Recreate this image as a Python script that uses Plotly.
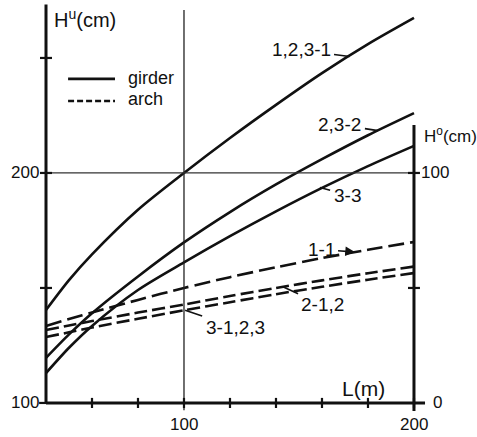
import plotly.graph_objects as go

# ---------------- data ----------------
L_m = [40, 50, 60, 80, 100, 120, 140, 160, 180, 200]

girder_123_1 = [140.4, 153.4, 164.6, 184.0, 200.0, 215.2, 229.6, 243.4, 256.0, 267.4]
girder_23_2 = [119.6, 129.8, 139.0, 155.0, 169.8, 183.0, 195.0, 206.0, 216.4, 226.0]
girder_3_3 = [113.0, 124.0, 133.5, 149.1, 161.1, 172.5, 183.3, 193.5, 203.0, 211.8]

arch_1_1 = [133.5, 136.5, 139.3, 144.8, 150.0, 154.7, 159.0, 163.0, 166.6, 170.0]
arch_2_12 = [131.7, 133.7, 135.6, 139.3, 142.8, 146.5, 150.0, 153.3, 156.4, 159.3]
arch_3_123 = [128.7, 130.7, 132.8, 136.6, 140.3, 143.8, 147.3, 150.5, 153.6, 156.5]

curve_labels = ["1,2,3-1", "2,3-2", "3-3", "1-1", "2-1,2", "3-1,2,3"]

left_ticks = [150, 200, 250]          # H^u (cm), minor crossing ticks
left_tick_labels = [100, 200]        # labelled values on H^u axis
bottom_ticks = [60, 80, 100, 120, 140, 160, 180, 200]
bottom_tick_labels = [100, 200]
right_ticks = [50, 100]              # H^o (cm)
right_tick_labels = [0, 100]
RIGHT_OFFSET = 100                   # H^o = H^u - 100

# ---------------- figure ----------------
FONT = "Liberation Sans"
INK = "#111111"
X0, X1 = 40, 200
Y0 = 100

fig = go.Figure()

series = [
    (girder_123_1, "solid"),
    (girder_23_2, "solid"),
    (girder_3_3, "solid"),
    (arch_1_1, "16px,6px"),
    (arch_2_12, "13px,5px"),
    (arch_3_123, "13px,5px"),
]
for vals, dash in series:
    fig.add_trace(go.Scatter(
        x=L_m, y=vals, mode="lines",
        line=dict(color=INK, width=2.6, dash=dash, shape="spline", smoothing=0.8),
        showlegend=False, hoverinfo="skip"))

shapes = []
def seg(x0, y0, x1, y1, w=3, dash="solid", color=INK):
    shapes.append(dict(type="line", xref="x", yref="y", x0=x0, y0=y0, x1=x1, y1=y1,
                       line=dict(color=color, width=w, dash=dash), layer="above"))

# grid lines
seg(100, 96.8, 100, 270.9, w=1.3, color="#222")
seg(X0, 200, X1, 200, w=1.2, color="#333")
# axes
seg(X0, Y0, X0, 273.2, w=3)
seg(X0, Y0, 204.8, Y0, w=3)
seg(X1, 96.5, X1, 220.9, w=3)
# ticks
for t in left_ticks:
    seg(X0 - 2.6, t, X0 + 2.6, t, w=2.2)
seg(X0 - 3.0, Y0, X0, Y0, w=2.2)
for t in bottom_ticks:
    seg(t, Y0 - 2.2, t, Y0 + 2.2, w=2.2)
for t in right_ticks:
    seg(X1 - 2.6, t + RIGHT_OFFSET, X1 + 2.6, t + RIGHT_OFFSET, w=2.2)

# legend keys
seg(49.6, 240.9, 70.0, 240.9, w=2.6)
seg(49.6, 231.3, 70.0, 231.3, w=2.4, dash="6px,3px")

ann = []
def txt(x, y, s, size=16, xanchor="center", yanchor="middle", xshift=0, yshift=0):
    ann.append(dict(x=x, y=y, xref="x", yref="y", text=s, showarrow=False,
                    font=dict(family=FONT, size=size, color=INK),
                    xanchor=xanchor, yanchor=yanchor, xshift=xshift, yshift=yshift))

txt(74.8, 241.5, "girder", size=18, xanchor="left")
txt(74.8, 232.0, "arch", size=18, xanchor="left")

for v in left_tick_labels:
    txt(X0, v, str(v), size=17, xanchor="right", xshift=-5)
for v in right_tick_labels:
    txt(X1, v + RIGHT_OFFSET, str(v), size=17, xanchor="left", xshift=(17 if v == 0 else 5))
for v in bottom_tick_labels:
    txt(v, Y0, str(v), size=17, yshift=-22)

txt(42.4, 267.0, "H<sup>u</sup>(cm)", size=20, xanchor="left")
txt(203.4, 216.3, "H<sup>o</sup>(cm)", size=17, xanchor="left")
txt(178.0, 106.2, "L(m)", size=21)

# curve labels with leader lines
def leader(label, tx, ty, px, py, head=0):
    ann.append(dict(x=px, y=py, xref="x", yref="y", ax=tx, ay=ty, axref="x", ayref="y",
                    text=label, showarrow=True, arrowhead=head, arrowsize=1.2, arrowwidth=1.6,
                    arrowcolor=INK, standoff=0, startstandoff=2,
                    font=dict(family=FONT, size=19, color=INK)))

leader(curve_labels[0], 150.9, 253.5, 172.0, 250.6)
leader(curve_labels[1], 167.8, 221.0, 184.3, 218.4)
leader(curve_labels[2], 170.9, 190.4, 159.1, 193.7)
leader(curve_labels[3], 159.6, 166.8, 174.3, 165.6, head=2)
leader(curve_labels[4], 160.4, 142.6, 143.0, 150.5)
leader(curve_labels[5], 122.2, 133.0, 100.5, 140.3)

fig.update_layout(
    width=477, height=437, autosize=False,
    margin=dict(l=0, r=0, t=0, b=0, pad=0),
    paper_bgcolor="white", plot_bgcolor="white",
    xaxis=dict(range=[20, 227.4], visible=False, fixedrange=True),
    yaxis=dict(range=[85.2, 275.2], visible=False, fixedrange=True),
    shapes=shapes, annotations=ann, showlegend=False,
)

fig.write_html("out.html", config={"displayModeBar": False},
               post_script="document.body.style.margin='0';")
